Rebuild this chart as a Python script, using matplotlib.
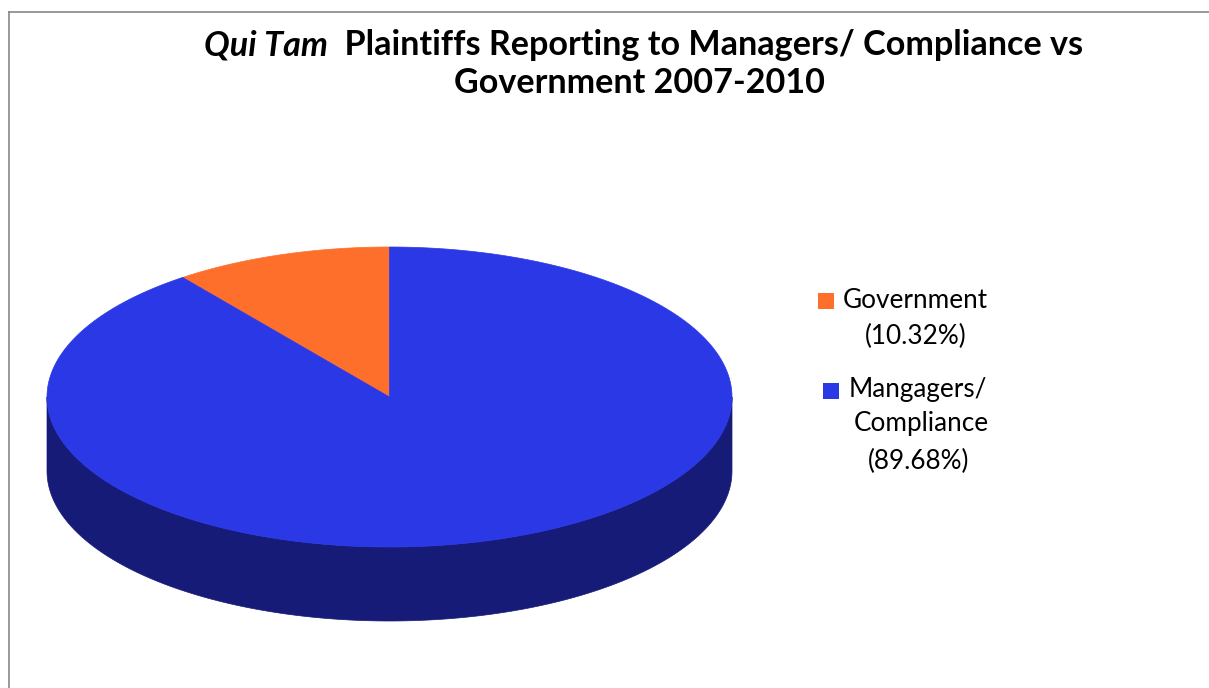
import numpy as np
import matplotlib
matplotlib.use("Agg")
import matplotlib.pyplot as plt
from matplotlib.patches import Polygon, Rectangle
from matplotlib.lines import Line2D

# ---- data ----
categories = ["Government", "Mangagers/\nCompliance"]
values = [10.32, 89.68]
pct_labels = ["(10.32%)", "(89.68%)"]
top_colors = ["#FF6F2C", "#2B38E6"]
side_colors = ["#8A3A14", "#151B77"]

title_italic = "Qui Tam"
title_rest = "  Plaintiffs Reporting to Managers/ Compliance vs"
title_line2 = "Government 2007-2010"

W, H = 1209, 688
fig = plt.figure(figsize=(W / 100, H / 100), dpi=100)
ax = fig.add_axes([0, 0, 1, 1])
ax.set_xlim(0, W)
ax.set_ylim(H, 0)
ax.axis("off")

FONT = "Lato"

# frame lines
ax.add_line(Line2D([9, 9], [12, H], color="#888888", lw=1.2))
ax.add_line(Line2D([9, W], [12, 12], color="#888888", lw=1.2))

# ---- 3D pie geometry ----
cx, cy, a, b, depth = 389.5, 397.0, 342.5, 150.0, 74.0

def pt(t, dy=0.0):
    t = np.radians(t)
    return cx + a * np.cos(t), cy - b * np.sin(t) + dy

total = sum(values)
start = 90.0
spans = []
for v in values:
    ext = 360.0 * v / total
    spans.append((start, start + ext))
    start += ext

# sides (visible front half: angles 180..360 mod 360)
for (t0, t1), sc in zip(spans, side_colors):
    for k in (0, 360):
        lo = max(t0, 180 + k)
        hi = min(t1, 360 + k)
        if hi > lo:
            ts = np.linspace(lo, hi, 200)
            xs, ys = pt(ts)
            xb, yb = pt(ts[::-1], depth)
            poly = np.column_stack([np.concatenate([xs, xb]), np.concatenate([ys, yb])])
            ax.add_patch(Polygon(poly, closed=True, facecolor=sc, edgecolor=sc, lw=0.5))

# top faces
for (t0, t1), tc in zip(spans, top_colors):
    ts = np.linspace(t0, t1, 400)
    xs, ys = pt(ts)
    poly = np.column_stack([np.concatenate([[cx], xs]), np.concatenate([[cy], ys])])
    ax.add_patch(Polygon(poly, closed=True, facecolor=tc, edgecolor=tc, lw=0.5))

# ---- title ----
renderer = fig.canvas.get_renderer()

def width_px(s, size, **kw):
    t = ax.text(0, 0, s, fontsize=size, family=FONT, **kw)
    w = t.get_window_extent(renderer=renderer).width
    t.remove()
    return w

# fit size so line 1 ~ 878 px wide
size = 20.0
wi = width_px(title_italic, size, weight="bold", style="italic")
wr = width_px(title_rest, size, weight="bold")
size = size * 878.0 / (wi + wr)
wi = width_px(title_italic, size, weight="bold", style="italic")
wr = width_px(title_rest, size, weight="bold")

center = 644
x0 = center - (wi + wr) / 2
ax.text(x0, 45, title_italic, fontsize=size, family=FONT, weight="bold",
        style="italic", ha="left", va="center")
ax.text(x0 + wi, 45, title_rest, fontsize=size, family=FONT, weight="bold",
        ha="left", va="center")
ax.text(640, 83, title_line2, fontsize=size, family=FONT, weight="bold",
        ha="center", va="center")

# ---- legend ----
lsize = 15.0
wg = width_px("Government", lsize)
lsize = lsize * 145.0 / wg

ax.add_patch(Rectangle((818, 293), 16, 16, facecolor=top_colors[0], edgecolor="none"))
ax.text(843, 301, categories[0], fontsize=lsize, family=FONT, ha="left", va="center")
ax.text(916, 336, pct_labels[0], fontsize=lsize, family=FONT, ha="center", va="center")

ax.add_patch(Rectangle((823, 383), 16, 16, facecolor=top_colors[1], edgecolor="none"))
line1, line2 = categories[1].split("\n")
ax.text(849, 390, line1, fontsize=lsize, family=FONT, ha="left", va="center")
ax.text(921, 424, line2, fontsize=lsize, family=FONT, ha="center", va="center")
ax.text(919, 461, pct_labels[1], fontsize=lsize, family=FONT, ha="center", va="center")

fig.savefig("out.png", dpi=100)
